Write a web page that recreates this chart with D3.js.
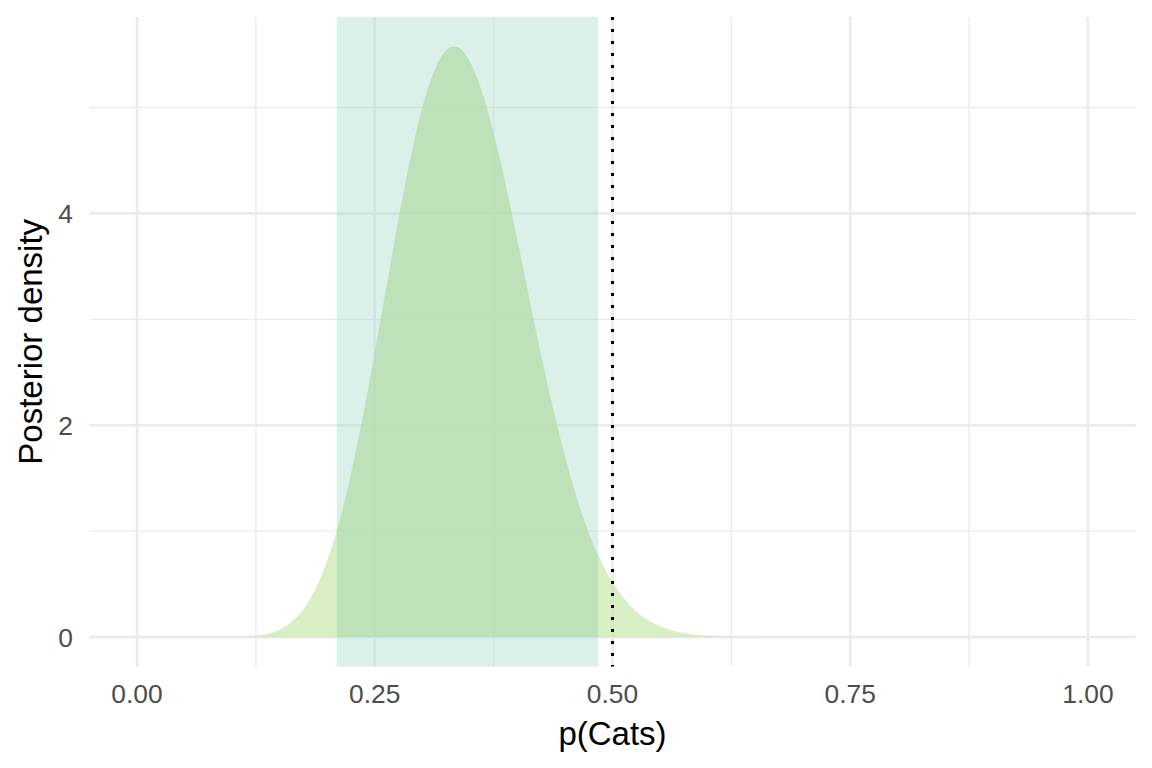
<!DOCTYPE html>
<html>
<head>
<meta charset="utf-8">
<script src="https://cdn.jsdelivr.net/npm/d3@7"></script>
<style>
  html, body { margin: 0; padding: 0; background: #fff; }
  svg { display: block; }
  text { font-family: "Liberation Sans", Arial, sans-serif; }
</style>
</head>
<body>
<script>
// ---- data ----
const pValues = [0.08, 0.10, 0.12, 0.14, 0.16, 0.18, 0.20, 0.21, 0.22, 0.24, 0.26, 0.28, 0.30, 0.32, 0.333, 0.34, 0.36, 0.38, 0.40, 0.42, 0.44, 0.46, 0.48, 0.485, 0.50, 0.52, 0.54, 0.56, 0.58, 0.60, 0.62, 0.64, 0.66];
const densityValues = [0.0001, 0.0012, 0.0081, 0.037, 0.124, 0.329, 0.720, 1.003, 1.347, 2.200, 3.197, 4.189, 5.001, 5.483, 5.576, 5.554, 5.223, 4.577, 3.747, 2.871, 2.062, 1.388, 0.875, 0.772, 0.517, 0.285, 0.147, 0.070, 0.031, 0.013, 0.005, 0.002, 0.0005];
const intervalBounds = [0.21, 0.485];
const referenceValue = 0.5;
const xTicks = [0, 0.25, 0.5, 0.75, 1];
const xTickLabels = ["0.00", "0.25", "0.50", "0.75", "1.00"];
const xMinorTicks = [0.125, 0.375, 0.625, 0.875];
const yTicks = [0, 2, 4];
const yTickLabels = ["0", "2", "4"];
const yMinorTicks = [1, 3, 5];
const xTitle = "p(Cats)";
const yTitle = "Posterior density";

// ---- layout ----
const W = 1152, H = 768;
const panel = { left: 89.5, right: 1135.5, top: 17, bottom: 666.6 };

const data = pValues.map((p, i) => ({ x: p, y: densityValues[i] }));
const yMax = d3.max(densityValues);

const x = d3.scaleLinear().domain([-0.05, 1.05]).range([panel.left, panel.right]);
const y = d3.scaleLinear().domain([-0.05 * yMax, yMax * 1.05]).range([panel.bottom, panel.top]);

const svg = d3.select("body").append("svg").attr("width", W).attr("height", H);

const defs = svg.append("defs");
const clipIn = defs.append("clipPath").attr("id", "clip-in");
clipIn.append("rect")
  .attr("x", x(intervalBounds[0])).attr("y", panel.top)
  .attr("width", x(intervalBounds[1]) - x(intervalBounds[0]))
  .attr("height", panel.bottom - panel.top);
const clipOut = defs.append("clipPath").attr("id", "clip-out");
clipOut.append("rect")
  .attr("x", panel.left).attr("y", panel.top)
  .attr("width", x(intervalBounds[0]) - panel.left)
  .attr("height", panel.bottom - panel.top);
clipOut.append("rect")
  .attr("x", x(intervalBounds[1])).attr("y", panel.top)
  .attr("width", panel.right - x(intervalBounds[1]))
  .attr("height", panel.bottom - panel.top);

// ---- grid ----
const grid = svg.append("g");
grid.selectAll(".xminor").data(xMinorTicks).join("line")
  .attr("x1", d => x(d)).attr("x2", d => x(d))
  .attr("y1", panel.top).attr("y2", panel.bottom)
  .attr("stroke", "#ebebeb").attr("stroke-width", 1.35);
grid.selectAll(".yminor").data(yMinorTicks).join("line")
  .attr("x1", panel.left).attr("x2", panel.right)
  .attr("y1", d => y(d)).attr("y2", d => y(d))
  .attr("stroke", "#ebebeb").attr("stroke-width", 1.35);
grid.selectAll(".xmajor").data(xTicks).join("line")
  .attr("x1", d => x(d)).attr("x2", d => x(d))
  .attr("y1", panel.top).attr("y2", panel.bottom)
  .attr("stroke", "#ebebeb").attr("stroke-width", 2.7);
grid.selectAll(".ymajor").data(yTicks).join("line")
  .attr("x1", panel.left).attr("x2", panel.right)
  .attr("y1", d => y(d)).attr("y2", d => y(d))
  .attr("stroke", "#ebebeb").attr("stroke-width", 2.7);

// ---- density ----
const area = d3.area()
  .x(d => x(d.x))
  .y0(y(0))
  .y1(d => y(d.y))
  .curve(d3.curveMonotoneX);

svg.append("path").datum(data)
  .attr("d", area)
  .attr("clip-path", "url(#clip-out)")
  .attr("fill", "rgb(199,231,171)")
  .attr("fill-opacity", 0.7);

// interval band
svg.append("rect")
  .attr("x", x(intervalBounds[0])).attr("y", panel.top)
  .attr("width", x(intervalBounds[1]) - x(intervalBounds[0]))
  .attr("height", panel.bottom - panel.top)
  .attr("fill", "rgb(167,217,202)")
  .attr("fill-opacity", 0.4);

svg.append("path").datum(data)
  .attr("d", area)
  .attr("clip-path", "url(#clip-in)")
  .attr("fill", "rgb(179,221,170)")
  .attr("fill-opacity", 0.75);

// reference line
svg.append("line")
  .attr("x1", x(referenceValue)).attr("x2", x(referenceValue))
  .attr("y1", panel.top).attr("y2", panel.bottom)
  .attr("stroke", "#000").attr("stroke-width", 3)
  .attr("stroke-dasharray", "3,9");

// ---- axes labels ----
svg.append("g").selectAll("text").data(xTicks).join("text")
  .attr("x", d => x(d)).attr("y", 703)
  .attr("text-anchor", "middle")
  .attr("font-size", 26.4).attr("fill", "#4d4d4d")
  .text((d, i) => xTickLabels[i]);

svg.append("g").selectAll("text").data(yTicks).join("text")
  .attr("x", 73).attr("y", d => y(d) + 9.5)
  .attr("text-anchor", "end")
  .attr("font-size", 26.4).attr("fill", "#4d4d4d")
  .text((d, i) => yTickLabels[i]);

svg.append("text")
  .attr("x", (panel.left + panel.right) / 2).attr("y", 745)
  .attr("text-anchor", "middle")
  .attr("font-size", 33).attr("fill", "#000")
  .text(xTitle);

svg.append("text")
  .attr("transform", `translate(42,${(panel.top + panel.bottom) / 2}) rotate(-90)`)
  .attr("text-anchor", "middle")
  .attr("font-size", 33).attr("fill", "#000")
  .text(yTitle);
</script>
</body>
</html>
